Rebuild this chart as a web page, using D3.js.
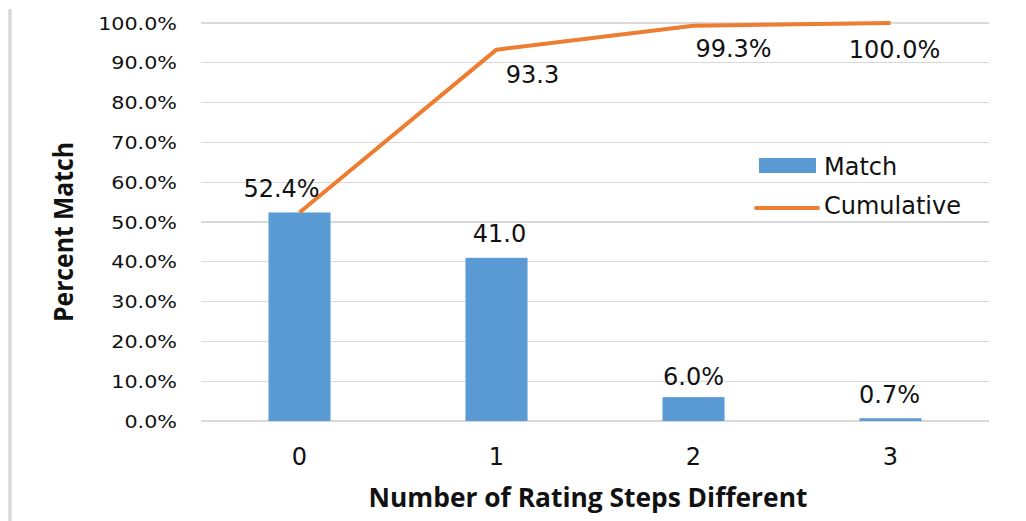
<!DOCTYPE html>
<html>
<head>
<meta charset="utf-8">
<script src="https://cdn.jsdelivr.net/npm/d3@7"></script>
<style>
  body { margin: 0; background: #fff; }
  svg { display: block; }
</style>
</head>
<body>
<svg id="chart" width="1026" height="521"></svg>
<script>
// ---- data ----
const categories = ["0", "1", "2", "3"];
const matchValues = [52.4, 41.0, 6.0, 0.7];
const cumulativeValues = [52.4, 93.3, 99.3, 100.0];
const matchLabels = ["52.4%", "41.0", "6.0%", "0.7%"];
const cumulativeLabels = [null, "93.3", "99.3%", "100.0%"];
const yTicks = [0, 10, 20, 30, 40, 50, 60, 70, 80, 90, 100];
const seriesNames = ["Match", "Cumulative"];
const xTitle = "Number of Rating Steps Different";
const yTitle = "Percent Match";

// ---- layout ----
const W = 1026, H = 521;
const plot = { left: 201, right: 989, top: 23, bottom: 421 };
const colors = { bar: "#5B9BD5", line: "#ED7D31", grid: "#d9d9d9", text: "#111" };
const labelFont = "'DejaVu Sans', sans-serif";
const titleFont = "'Open Sans', 'Liberation Sans', sans-serif";

// per-label nudges (pixels) for the data labels
const matchLabelNudge = [[-18, -15], [3, -16], [0, -12], [-1, -15]];
const cumulativeLabelNudge = [[0, 0], [36, 33], [40, 31], [4, 35]];

const svg = d3.select("#chart");

const x = d3.scaleBand()
  .domain(categories)
  .range([plot.left, plot.right])
  .paddingInner(0.685)
  .paddingOuter(0.3425);

const y = d3.scaleLinear().domain([0, 100]).range([plot.bottom, plot.top]);
const cx = c => x(c) + x.bandwidth() / 2;

// chart frame edge on the left
svg.append("line")
  .attr("x1", 10).attr("x2", 10).attr("y1", 9).attr("y2", H)
  .attr("stroke", "#d9d9d9").attr("stroke-width", 3.5);

// gridlines
svg.append("g").selectAll("line").data(yTicks).join("line")
  .attr("x1", plot.left).attr("x2", plot.right)
  .attr("y1", d => y(d)).attr("y2", d => y(d))
  .attr("stroke", colors.grid).attr("stroke-width", 1.3)
  .attr("shape-rendering", "crispEdges");

// y tick labels (slightly widened glyphs)
const fmt = d3.format(".1f");
svg.append("g").selectAll("text").data(yTicks).join("text")
  .attr("transform", d => `translate(177,${y(d) + 6.5}) scale(1.15,1)`)
  .attr("text-anchor", "end")
  .attr("font-family", labelFont).attr("font-size", 18)
  .attr("fill", colors.text)
  .text(d => fmt(d) + "%");

// bars
svg.append("g").selectAll("rect").data(matchValues).join("rect")
  .attr("x", (d, i) => x(categories[i]))
  .attr("width", x.bandwidth())
  .attr("y", d => y(d))
  .attr("height", d => y(0) - y(d))
  .attr("fill", colors.bar);

// cumulative line
const line = d3.line()
  .x((d, i) => cx(categories[i]))
  .y(d => y(d));
svg.append("path")
  .datum(cumulativeValues)
  .attr("d", line)
  .attr("fill", "none")
  .attr("stroke", colors.line)
  .attr("stroke-width", 4)
  .attr("stroke-linejoin", "round");

// bar data labels
svg.append("g").selectAll("text").data(matchValues).join("text")
  .attr("x", (d, i) => cx(categories[i]) + matchLabelNudge[i][0])
  .attr("y", (d, i) => y(d) + matchLabelNudge[i][1])
  .attr("text-anchor", "middle")
  .attr("font-family", labelFont).attr("font-size", 24)
  .attr("fill", colors.text)
  .text((d, i) => matchLabels[i]);

// line data labels
svg.append("g").selectAll("text")
  .data(cumulativeValues.map((v, i) => ({ v, i })).filter(d => cumulativeLabels[d.i]))
  .join("text")
  .attr("x", d => cx(categories[d.i]) + cumulativeLabelNudge[d.i][0])
  .attr("y", d => y(d.v) + cumulativeLabelNudge[d.i][1])
  .attr("text-anchor", "middle")
  .attr("font-family", labelFont).attr("font-size", 24)
  .attr("fill", colors.text)
  .text(d => cumulativeLabels[d.i]);

// category labels
svg.append("g").selectAll("text").data(categories).join("text")
  .attr("x", d => cx(d))
  .attr("y", 465)
  .attr("text-anchor", "middle")
  .attr("font-family", labelFont).attr("font-size", 24)
  .attr("fill", colors.text)
  .text(d => d);

// axis titles, stretched to their span
function fitTitle(sel, targetLen, tx, ty, rot) {
  const len = sel.node().getComputedTextLength();
  const s = targetLen / len;
  sel.attr("transform", `translate(${tx},${ty}) rotate(${rot}) scale(${s},1)`);
}
const xt = svg.append("text")
  .attr("text-anchor", "middle")
  .attr("font-family", titleFont).attr("font-weight", 700).attr("font-size", 27)
  .attr("fill", colors.text)
  .text(xTitle);
fitTitle(xt, 439, 588, 507, 0);

const yt = svg.append("text")
  .attr("text-anchor", "middle")
  .attr("font-family", titleFont).attr("font-weight", 700).attr("font-size", 27)
  .attr("fill", colors.text)
  .text(yTitle);
fitTitle(yt, 180, 73, 232, -90);

// legend
const lg = svg.append("g");
lg.append("rect").attr("x", 759).attr("y", 158).attr("width", 57).attr("height", 15)
  .attr("fill", colors.bar);
lg.append("text").attr("x", 824).attr("y", 175)
  .attr("font-family", labelFont).attr("font-size", 24).attr("fill", colors.text)
  .text(seriesNames[0]);
lg.append("line").attr("x1", 756).attr("x2", 818).attr("y1", 208).attr("y2", 208)
  .attr("stroke", colors.line).attr("stroke-width", 4).attr("stroke-linecap", "round");
lg.append("text").attr("x", 824).attr("y", 214)
  .attr("font-family", labelFont).attr("font-size", 24).attr("fill", colors.text)
  .text(seriesNames[1]);
</script>
</body>
</html>
